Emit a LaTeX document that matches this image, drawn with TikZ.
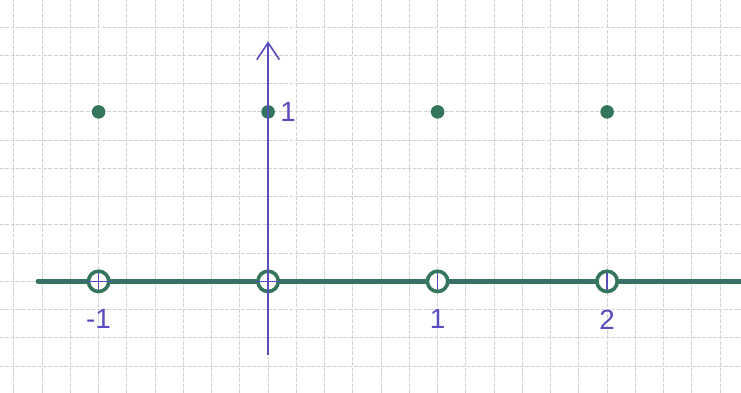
\documentclass[tikz,border=0pt]{standalone}
\usepackage{fontspec}
\setmainfont{Liberation Sans}
\usetikzlibrary{arrows.meta,positioning}
\definecolor{pen}{RGB}{88,76,190}
\definecolor{marker}{RGB}{52,118,92}
\definecolor{paper}{RGB}{210,210,210}
\tikzset{
 sqgrid/.style={draw=paper, line width=.5pt, dash pattern=on 2pt off .7pt},
 axis/.style={draw=pen, line width=.8pt},
 graph/.style={draw=marker, line width=2.2pt, line cap=round},
 hole/.style={circle, draw=marker, line width=1.8pt, fill=white, minimum size=3.6mm, inner sep=0pt},
 dot/.style={circle, fill=marker, minimum size=2.4mm, inner sep=0pt},
 lbl/.style={text=pen, font=\fontsize{14}{16}\selectfont, inner sep=1pt}
}
\begin{document}
\begin{tikzpicture}[x=5mm, y=5mm]
\useasboundingbox (-9.49,-3.95) rectangle (16.74,9.96);
\fill[white] (-9.49,-3.95) rectangle (16.74,9.96);
\draw[sqgrid, step=1] (-9.49,-3.95) grid (16.74,9.96);

% axes
\coordinate (xl) at (-8.15,0);
\coordinate (xr) at (16.74,0);
\coordinate (yb) at (0,-2.6);
\coordinate (yt) at (0,8.5);
\draw[graph] (xl) -- (xr);
\draw[axis, opacity=.45, line width=.6pt] (xl) -- (xr);

% values at the integers
\node[hole] (hm1) at (-6,0) {};
\node[hole] (h0) at (0,0) {};
\node[hole] (h1) at (6,0) {};
\node[hole] (h2) at (12,0) {};
\node[dot] (dm1) at (-6,6) {};
\node[dot] (d0) at (0,6) {};
\node[dot] (d1) at (6,6) {};
\node[dot] (d2) at (12,6) {};

\draw[axis, -{Straight Barb[length=3mm,width=4mm]}] (yb) -- (yt);
\foreach \h in {hm1,h0,h1,h2}
  \draw[axis] (\h.center) ++(0,-.3) -- ++(0,.6);
\draw[axis] (hm1.west) -- (hm1.east);
\draw[axis] (h0.west) -- (h0.east);

\node[lbl, below=2.5mm of hm1] (lm1) {-1};
\node[lbl, below=2.5mm of h1] (l1) {1};
\node[lbl, below=2.5mm of h2] (l2) {2};
\node[lbl, right=.5mm of d0] (ly1) {1};
\end{tikzpicture}
\end{document}
